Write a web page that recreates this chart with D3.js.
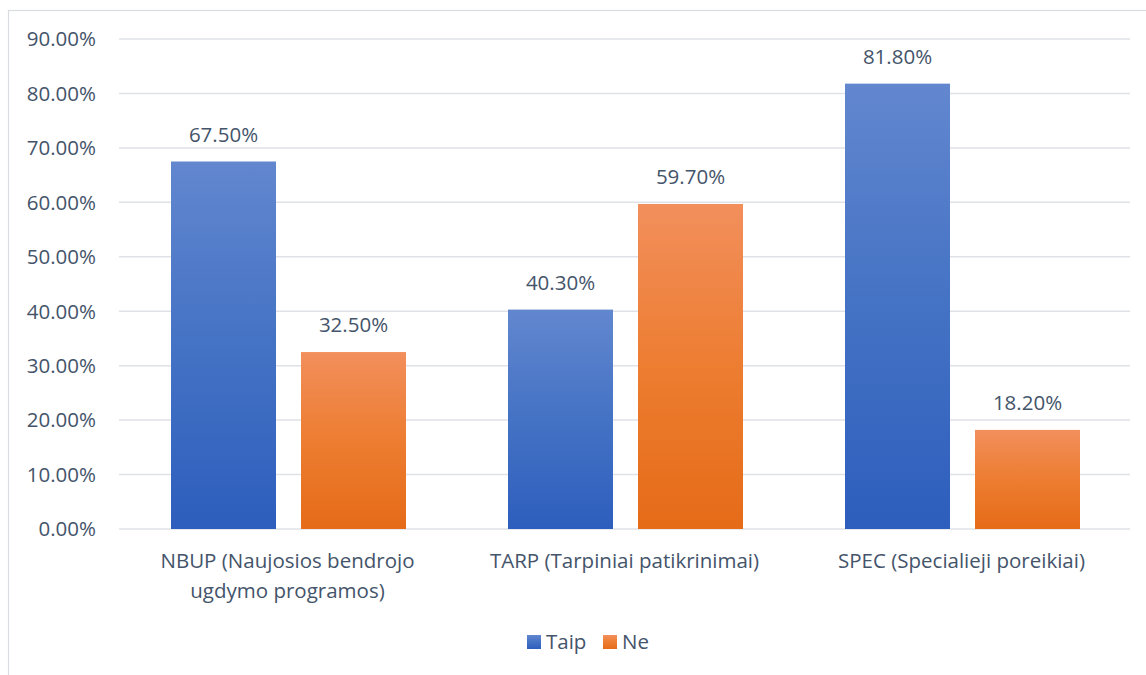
<!DOCTYPE html>
<html>
<head>
<meta charset="utf-8">
<script src="https://cdn.jsdelivr.net/npm/d3@7.9.0/dist/d3.min.js"></script>
<style>
  html, body { margin: 0; padding: 0; background: #fff; }
  svg { display: block; font-family: "Open Sans", sans-serif; }
</style>
</head>
<body>
<svg id="chart" width="1146" height="675"></svg>
<script>
const categories = [
  ["NBUP (Naujosios bendrojo", "ugdymo programos)"],
  ["TARP (Tarpiniai patikrinimai)"],
  ["SPEC (Specialieji poreikiai)"]
];
const seriesNames = ["Taip", "Ne"];
const taipValues = [0.675, 0.403, 0.818];
const neValues = [0.325, 0.597, 0.182];
const yTicks = [0, 0.1, 0.2, 0.3, 0.4, 0.5, 0.6, 0.7, 0.8, 0.9];

const textColor = "#44546a";
const fontSize = 20.5;
const grads = [
  { id: "gBlue", top: "#6287cf", bottom: "#2d5ebd", flat: "#4472c4" },
  { id: "gOrange", top: "#f28f5c", bottom: "#e56b18", flat: "#ed7d31" }
];

const svg = d3.select("#chart");
const defs = svg.append("defs");
grads.forEach(g => {
  const lg = defs.append("linearGradient").attr("id", g.id)
    .attr("x1", 0).attr("y1", 0).attr("x2", 0).attr("y2", 1);
  lg.append("stop").attr("offset", "0%").attr("stop-color", g.top);
  lg.append("stop").attr("offset", "50%").attr("stop-color", g.flat);
  lg.append("stop").attr("offset", "100%").attr("stop-color", g.bottom);
});

// chart frame (runs off right and bottom of the picture)
svg.append("rect").attr("x", 8.5).attr("y", 10.5).attr("width", 1160).attr("height", 700)
  .attr("fill", "none").attr("stroke", "#d9dde3").attr("stroke-width", 1.2);

const plotL = 119, plotR = 1130;
const y = d3.scaleLinear().domain([0, 0.9]).range([529, 39]);
const x0 = d3.scaleBand().domain(d3.range(categories.length)).range([plotL, plotR]).paddingInner(0).paddingOuter(0);
const x1 = d3.scaleBand().domain(seriesNames).range([52, 287]).paddingInner(25 / 130).paddingOuter(0);

// gridlines
svg.append("g").selectAll("line").data(yTicks).join("line")
  .attr("x1", plotL).attr("x2", plotR)
  .attr("y1", d => y(d)).attr("y2", d => y(d))
  .attr("stroke", "#dfe2e7").attr("stroke-width", 1.5);

// y labels
svg.append("g").selectAll("text").data(yTicks).join("text")
  .attr("x", 96).attr("y", d => y(d)).attr("dy", "0.36em")
  .attr("text-anchor", "end").attr("fill", textColor).attr("font-size", fontSize)
  .text(d => d3.format(".2%")(d));

const rows = categories.map((c, i) => ({ i, vals: [taipValues[i], neValues[i]] }));

const groups = svg.append("g").selectAll("g").data(rows).join("g")
  .attr("transform", d => `translate(${x0(d.i)},0)`);

groups.selectAll("rect").data(d => d.vals.map((v, k) => ({ v, k }))).join("rect")
  .attr("x", d => x1(seriesNames[d.k]))
  .attr("width", x1.bandwidth())
  .attr("y", d => y(d.v))
  .attr("height", d => y(0) - y(d.v))
  .attr("fill", d => `url(#${grads[d.k].id})`);

groups.selectAll("text.val").data(d => d.vals.map((v, k) => ({ v, k }))).join("text")
  .attr("class", "val")
  .attr("x", d => x1(seriesNames[d.k]) + x1.bandwidth() / 2)
  .attr("y", d => y(d.v) - 20)
  .attr("text-anchor", "middle").attr("fill", textColor).attr("font-size", fontSize)
  .text(d => d3.format(".2%")(d.v));

// category labels
groups.each(function(d) {
  const t = d3.select(this).append("text")
    .attr("text-anchor", "middle").attr("fill", textColor).attr("font-size", fontSize);
  categories[d.i].forEach((line, j) => {
    t.append("tspan").attr("x", x0.bandwidth() / 2).attr("y", 568 + j * 30).text(line);
  });
});

// legend
const legend = svg.append("g").attr("transform", "translate(527,642)");
const legX = [0, 76];
seriesNames.forEach((s, k) => {
  const g = legend.append("g").attr("transform", `translate(${legX[k]},0)`);
  g.append("rect").attr("x", 0).attr("y", -7).attr("width", 14).attr("height", 14)
    .attr("fill", `url(#${grads[k].id})`);
  g.append("text").attr("x", 19).attr("y", 0).attr("dy", "0.36em")
    .attr("fill", textColor).attr("font-size", fontSize).text(s);
});
</script>
</body>
</html>
